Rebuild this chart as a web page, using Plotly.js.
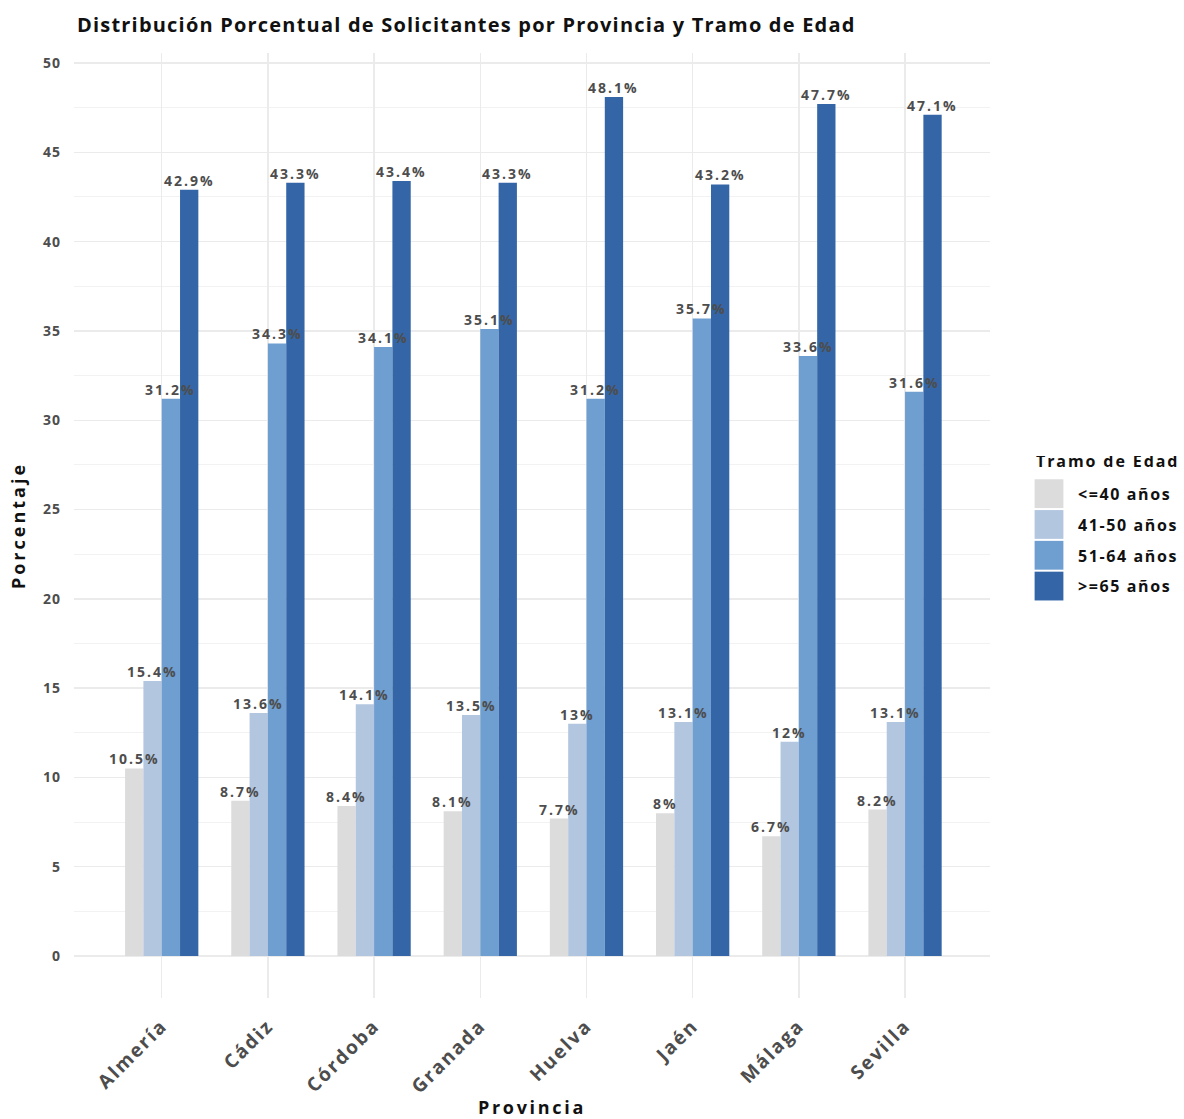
<!DOCTYPE html>
<html>
<head>
<meta charset="utf-8">
<script src="https://cdn.plot.ly/plotly-3.0.1.min.js"></script>
<style>
html,body{margin:0;padding:0;background:#fff;}
#chart{width:1184px;height:1119px;}
.gtitle{letter-spacing:1.2px;}
.xtick text{letter-spacing:2px;}
.ytick text{letter-spacing:1px;}
.xtitle{letter-spacing:2.7px;}
.ytitle{letter-spacing:3px;}
.legendtext{letter-spacing:1.6px;}
.legendtitletext{letter-spacing:1.9px;}
#chart .legendtitletext{transform:translateY(-10px);}
.annotation-text{letter-spacing:2px;}
#chart .legend .legendpoints path{transform:translate(15px,0) scale(2.4);}
</style>
</head>
<body>
<div id="chart"></div>
<script>
const provincias = ["Almería", "Cádiz", "Córdoba", "Granada", "Huelva", "Jaén", "Málaga", "Sevilla"];
const tramos = ["<=40 años", "41-50 años", "51-64 años", ">=65 años"];
const hasta40 = [10.5, 8.7, 8.4, 8.1, 7.7, 8, 6.7, 8.2];
const de41a50 = [15.4, 13.6, 14.1, 13.5, 13, 13.1, 12, 13.1];
const de51a64 = [31.2, 34.3, 34.1, 35.1, 31.2, 35.7, 33.6, 31.6];
const desde65 = [42.9, 43.3, 43.4, 43.3, 48.1, 43.2, 47.7, 47.1];
const colores = ["#DCDCDC", "#B3C6DF", "#6F9ED0", "#3466A7"];
const yTicks = [0, 5, 10, 15, 20, 25, 30, 35, 40, 45, 50];

const series = [hasta40, de41a50, de51a64, desde65];
const FONT = "Open Sans, Noto Sans, sans-serif";

const W = 1184, H = 1119;
const M = {l: 74, r: 194, t: 53, b: 121, autoexpand: false};
const xRange = [-0.826, 7.8];
const BARGAP = 0.31;
const pxPerCat = (W - M.l - M.r) / (xRange[1] - xRange[0]);
const barPx = (1 - BARGAP) * pxPerCat / series.length;

const traces = series.map((vals, i) => ({
  type: "bar",
  name: tramos[i],
  legendgroup: "g" + i,
  x: provincias,
  y: vals,
  marker: {color: colores[i], line: {width: 0}},
  hoverinfo: "none"
}));

const annotations = [];
series.forEach((vals, i) => {
  vals.forEach((v, j) => {
    annotations.push({
      x: provincias[j],
      y: v,
      xref: "x",
      yref: "y",
      text: String(v) + "%",
      showarrow: false,
      xanchor: "center",
      yanchor: "bottom",
      xshift: (i - (series.length - 1) / 2) * barPx,
      yshift: -2,
      font: {family: FONT, size: 14, color: "#4d4d4d", weight: "bold"}
    });
  });
});

const layout = {
  width: W,
  height: H,
  paper_bgcolor: "#ffffff",
  plot_bgcolor: "#ffffff",
  margin: M,
  barmode: "group",
  bargap: BARGAP,
  bargroupgap: 0,
  showlegend: true,
  annotations: annotations,
  title: {
    text: "Distribución Porcentual de Solicitantes por Provincia y Tramo de Edad",
    font: {family: FONT, size: 20, color: "#111", weight: "bold"},
    xref: "container", x: 77 / W, xanchor: "left",
    yref: "container", y: 1 - 25 / H, yanchor: "middle"
  },
  xaxis: {
    type: "category",
    range: xRange,
    showgrid: true,
    gridcolor: "#ebebeb",
    gridwidth: 1.4,
    zeroline: false,
    showline: false,
    ticks: "",
    tickangle: -45,
    ticklabelstandoff: 12,
    tickfont: {family: FONT, size: 19, color: "#4d4d4d", weight: "bold"},
    title: {text: "Provincia", font: {family: FONT, size: 18, color: "#111", weight: "bold"}, standoff: 10}
  },
  yaxis: {
    range: [-2.35, 50.56],
    tickvals: yTicks,
    showgrid: true,
    gridcolor: "#ebebeb",
    gridwidth: 1.4,
    minor: {dtick: 2.5, tick0: 0, showgrid: true, gridcolor: "#f2f2f2", gridwidth: 1},
    zeroline: false,
    showline: false,
    ticks: "",
    ticklabelstandoff: 12,
    tickfont: {family: FONT, size: 14, color: "#4d4d4d", weight: "bold"},
    title: {text: "Porcentaje", font: {family: FONT, size: 18, color: "#111", weight: "bold"}, standoff: 12}
  },
  legend: {
    title: {text: "Tramo de Edad", font: {family: FONT, size: 16, color: "#111", weight: "bold"}},
    font: {family: FONT, size: 16, color: "#111", weight: "bold"},
    x: (1034 - M.l) / (W - M.l - M.r), xanchor: "left",
    y: 0.4958, yanchor: "middle",
    traceorder: "grouped",
    itemwidth: 34,
    tracegroupgap: 7,
    bgcolor: "rgba(0,0,0,0)"
  }
};

Plotly.newPlot("chart", traces, layout, {displayModeBar: false, staticPlot: true});
</script>
</body>
</html>
